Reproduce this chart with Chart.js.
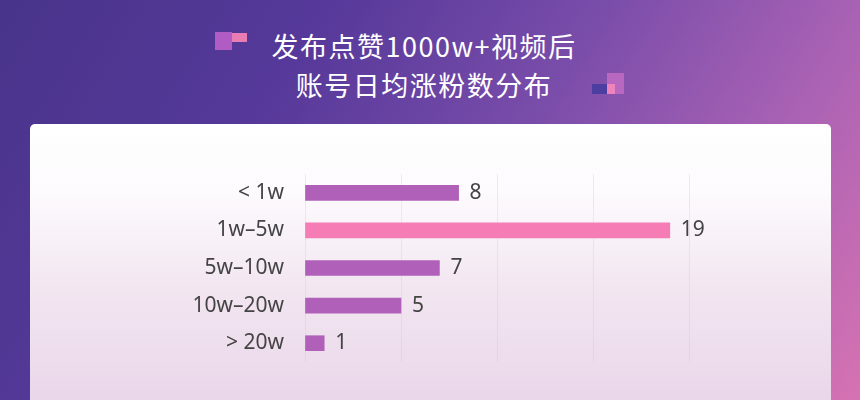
<!DOCTYPE html>
<html>
<head>
<meta charset="utf-8">
<script src="https://cdn.jsdelivr.net/npm/chart.js@4/dist/chart.umd.min.js"></script>
<style>
  html, body { margin: 0; padding: 0; }
  body {
    width: 860px; height: 400px; overflow: hidden; position: relative;
    background: linear-gradient(122deg, #48348a 0%, #56399a 30%, #7a4daa 55%, #a962b4 78%, #d672b2 100%);
    font-family: "Noto Sans CJK SC", "Noto Sans", sans-serif;
  }
  .title {
    position: absolute; left: 0; width: 848px; top: 26px;
    text-align: center; color: #fff; font-size: 27px; line-height: 39px;
    letter-spacing: 1.5px;
  }
  .deco { position: absolute; }
  .card {
    position: absolute; left: 30px; top: 124px; width: 801px; height: 300px;
    border-radius: 5px;
    background: linear-gradient(180deg, #ffffff 0%, #fdfbfd 22%, #f2e6f1 55%, #e8d4e8 100%);
  }
  #wrap { position: absolute; left: 30px; top: 124px; width: 800px; height: 276px; }
</style>
</head>
<body>
<div class="deco" style="left:215px;top:32px;width:17px;height:18px;background:#b05cc4;"></div>
<div class="deco" style="left:232px;top:33px;width:15px;height:9px;background:#ea7cb4;"></div>
<div class="deco" style="left:592px;top:84px;width:15px;height:10px;background:#4c3ea0;"></div>
<div class="deco" style="left:607px;top:73px;width:17px;height:21px;background:#b868c0;"></div>
<div class="deco" style="left:607px;top:84px;width:8px;height:10px;background:#ee84bc;"></div>
<div class="title">发布点赞1000w+视频后<br>账号日均涨粉数分布</div>
<div class="card"></div>
<div id="wrap"><canvas id="chart"></canvas></div>
<script>
// Data
const categories = ['< 1w', '1w–5w', '5w–10w', '10w–20w', '> 20w'];
const values = [8, 19, 7, 5, 1];
const barColors = ['#b060b8', '#f57cb5', '#b060b8', '#b060b8', '#b060b8'];

// value labels at bar ends
const valueLabels = {
    id: 'valueLabels',
    afterDatasetsDraw(chart) {
        const ctx = chart.ctx;
        const meta = chart.getDatasetMeta(0);
        ctx.save();
        ctx.fillStyle = '#444444';
        ctx.font = "21px 'Noto Sans', sans-serif";
        ctx.textAlign = 'left';
        ctx.textBaseline = 'middle';
        meta.data.forEach((bar, i) => {
            ctx.fillText(values[i], bar.x + 11, bar.y);
        });
        ctx.restore();
    }
};

new Chart(document.getElementById('chart'), {
    type: 'bar',
    data: {
        labels: categories,
        datasets: [{
            data: values,
            backgroundColor: barColors,
            barThickness: 15,
            borderWidth: 0
        }]
    },
    options: {
        indexAxis: 'y',
        responsive: true,
        maintainAspectRatio: false,
        animation: false,
        layout: { padding: { left: 0, right: 141, top: 50, bottom: 38 } },
        scales: {
            x: {
                min: 0, max: 20,
                ticks: { display: false, stepSize: 5 },
                grid: { color: 'rgba(215, 190, 215, 0.3)', drawTicks: false },
                border: { display: false }
            },
            y: {
                afterFit(scale) { scale.width = 275; },
                ticks: {
                    color: '#444444',
                    padding: 21,
                    font: { family: "'Noto Sans', sans-serif", size: 21 }
                },
                grid: { display: false, drawTicks: false },
                border: { display: false }
            }
        },
        plugins: { legend: { display: false }, tooltip: { enabled: false } }
    },
    plugins: [valueLabels]
});
</script>
</body>
</html>
